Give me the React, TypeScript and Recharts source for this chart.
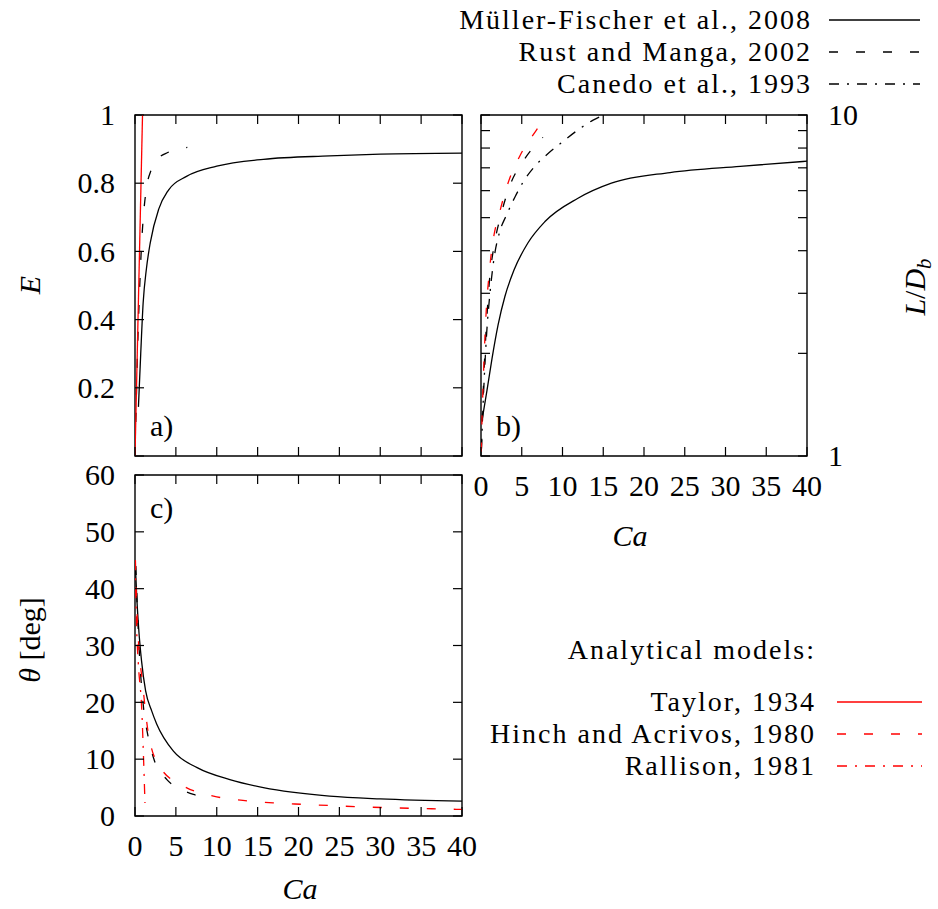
import React from 'react';
import { LineChart, Line, XAxis, YAxis, ReferenceArea } from 'recharts';

const W = 938;
const H = 909;
const FONT = '"Liberation Serif", "DejaVu Serif", serif';
const RED = '#ff0000';
const DASH = '9 18';
const DASH_DOT = '10 8 2 8';
const TICK = 9;
const TICK_FS = 30;
const AXIS_W = 60;
const AXIS_H = 40;

const caTicks = [0, 5, 10, 15, 20, 25, 30, 35, 40];
const eTicks = [0, 0.2, 0.4, 0.6, 0.8, 1];
const ldTicks = [1, 2, 3, 4, 5, 6, 7, 8, 9, 10];
const thetaTicks = [0, 10, 20, 30, 40, 50, 60];

// a) deformation parameter E
const mfCaA = [0.42, 0.7, 1.0, 1.4, 1.87, 2.9, 4.1, 6.3, 10, 15.7, 23.8, 30, 40];
const mfE = [0.144, 0.3, 0.45, 0.55, 0.626, 0.724, 0.78, 0.82, 0.85, 0.87, 0.88, 0.885, 0.888];
const rmCaA = [0.1, 0.3, 0.55, 0.8, 1.05, 1.4, 2.0, 2.6, 4.0, 5.3, 6.4];
const rmE = [0.1, 0.3, 0.48, 0.62, 0.71, 0.785, 0.84, 0.866, 0.89, 0.9, 0.905];
const taylorCa = [0, 0.92];
const taylorE = [0, 1];

// b) L/D_b
const mfCaB = [0.12, 0.74, 1.35, 2.09, 2.94, 4.05, 5.77, 7.85, 11.9, 16, 23.2, 31.8, 40];
const mfL = [1.27, 1.56, 1.93, 2.42, 2.94, 3.51, 4.22, 4.87, 5.7, 6.31, 6.78, 7.07, 7.32];
const rmCaB = [0.05, 0.3, 0.7, 1.1, 1.5, 2.5, 3.5, 5.3, 7.6];
const rmL = [1.05, 1.6, 2.5, 3.4, 4.0, 5.15, 6.17, 7.4, 8.6];
const canCaB = [0.05, 0.3, 0.7, 1.1, 1.6, 2.3, 3.1, 4.2, 5.15, 6.8, 8.1, 10.1, 11.7, 13.7, 15.1];
const canL = [1.05, 1.5, 2.3, 3.0, 3.8, 4.55, 5.07, 5.77, 6.35, 7.16, 7.66, 8.38, 8.97, 9.64, 10];
const haCaB = [0.04, 0.12, 0.25, 0.53, 1.07, 1.47, 2.3, 3.3, 4.75, 6.8, 7.4];
const haL = [1.03, 1.27, 1.59, 2.37, 3.56, 4.26, 5.2, 6.3, 7.57, 9.03, 9.47];

// c) orientation angle
const mfCaC = [0.05, 0.2, 0.45, 0.8, 1.3, 2.04, 2.65, 4.7, 7.6, 11.6, 15.7, 23.8, 30, 40];
const mfTheta = [44, 39, 33, 27.3, 22, 18.5, 16.2, 11.4, 8.5, 6.4, 5.0, 3.5, 3.0, 2.6];
const rmCaC = [0.1, 0.3, 0.6, 1.05, 1.6, 2.27, 3.9, 5.5, 7.15, 8.3];
const rmTheta = [44, 36, 27, 19, 14, 10.2, 6.4, 4.8, 3.8, 3.4];
const haCaC = [0.05, 0.24, 0.5, 0.85, 1.66, 3.1, 5.9, 9.6, 13.2, 16.9, 20.6, 27.9, 38.5, 40];
const haTheta = [45, 36, 29, 24.3, 14.3, 8.5, 5.3, 3.5, 2.75, 2.3, 2.05, 1.6, 1.2, 1.15];
const ralCaC = [0.02, 0.2, 0.4, 0.85, 1.05, 1.22];
const ralTheta = [45, 33, 27, 18, 10, 2.3];

const zip = (xs: number[], ys: number[]) => xs.map((ca, i) => ({ ca, v: ys[i] }));

type Box = { left: number; top: number; width: number; height: number };
const boxA: Box = { left: 135, top: 115, width: 327, height: 341 };
const boxB: Box = { left: 481, top: 115, width: 326, height: 341 };
const boxC: Box = { left: 135, top: 475, width: 327, height: 341 };

// plot area lands exactly on the box: axes take AXIS_W / AXIS_H out of the margin
const marginOf = (b: Box, yRight = false) => ({
  left: yRight ? b.left : b.left - AXIS_W,
  top: b.top,
  right: yRight ? W - b.left - b.width - AXIS_W : W - b.left - b.width,
  bottom: H - b.top - b.height - AXIS_H,
});

const txt = { fontFamily: FONT, fontSize: TICK_FS, fill: '#000' };

// y ticks: inward marks on both sides, label on the left or right
function yTick(b: Box, side: 'left' | 'right', show: (v: number) => boolean) {
  return (p: any) => {
    const y = p.y;
    const v = p.payload.value;
    const l = b.left;
    const r = b.left + b.width;
    return (
      <g>
        <line x1={l} x2={l + TICK} y1={y} y2={y} stroke="#000" strokeWidth={1.2} />
        <line x1={r} x2={r - TICK} y1={y} y2={y} stroke="#000" strokeWidth={1.2} />
        {show(v) && (
          <text
            {...txt}
            x={side === 'left' ? l - 20 : r + 21}
            y={y}
            dy="0.34em"
            textAnchor={side === 'left' ? 'end' : 'start'}
          >
            {v}
          </text>
        )}
      </g>
    );
  };
}

function xTick(b: Box, labels: boolean) {
  return (p: any) => {
    const x = p.x;
    const v = p.payload.value;
    const t = b.top;
    const bt = b.top + b.height;
    return (
      <g>
        <line x1={x} x2={x} y1={bt} y2={bt - TICK} stroke="#000" strokeWidth={1.2} />
        <line x1={x} x2={x} y1={t} y2={t + TICK} stroke="#000" strokeWidth={1.2} />
        {labels && (
          <text {...txt} x={x} y={bt + 30} dy="0.34em" textAnchor="middle">
            {v}
          </text>
        )}
      </g>
    );
  };
}

const pos: React.CSSProperties = { position: 'absolute', left: 0, top: 0 };

function PanelA() {
  return (
    <div style={pos}>
      <LineChart width={W} height={H} margin={marginOf(boxA)}>
        <XAxis type="number" dataKey="ca" domain={[0, 40]} ticks={caTicks} interval={0} height={AXIS_H}
          axisLine={false} tickLine={false} tickSize={0} tickMargin={0} allowDataOverflow tick={xTick(boxA, false)} />
        <YAxis type="number" domain={[0, 1]} ticks={eTicks} interval={0} width={AXIS_W}
          axisLine={false} tickLine={false} tickSize={0} tickMargin={0} allowDataOverflow
          tick={yTick(boxA, 'left', (v) => v !== 0)} />
        <ReferenceArea x1={0} x2={40} y1={0} y2={1} fill="none" stroke="#000" strokeWidth={1.4} />
        <Line data={zip(mfCaA, mfE)} dataKey="v" type="monotone" stroke="#000" strokeWidth={1.3} dot={false} isAnimationActive={false} />
        <Line data={zip(rmCaA, rmE)} dataKey="v" type="monotone" stroke="#000" strokeWidth={1.3} strokeDasharray={DASH} dot={false} isAnimationActive={false} />
        <Line data={zip(taylorCa, taylorE)} dataKey="v" type="linear" stroke={RED} strokeWidth={1.3} dot={false} isAnimationActive={false} />
      </LineChart>
    </div>
  );
}

function PanelB() {
  return (
    <div style={pos}>
      <LineChart width={W} height={H} margin={marginOf(boxB, true)}>
        <XAxis type="number" dataKey="ca" domain={[0, 40]} ticks={caTicks} interval={0} height={AXIS_H}
          axisLine={false} tickLine={false} tickSize={0} tickMargin={0} allowDataOverflow tick={xTick(boxB, true)} />
        <YAxis type="number" orientation="right" scale="log" domain={[1, 10]} ticks={ldTicks} interval={0} width={AXIS_W}
          axisLine={false} tickLine={false} tickSize={0} tickMargin={0} allowDataOverflow
          tick={yTick(boxB, 'right', (v) => v === 1 || v === 10)} />
        <ReferenceArea x1={0} x2={40} y1={1} y2={10} fill="none" stroke="#000" strokeWidth={1.4} />
        <Line data={zip(mfCaB, mfL)} dataKey="v" type="monotone" stroke="#000" strokeWidth={1.3} dot={false} isAnimationActive={false} />
        <Line data={zip(rmCaB, rmL)} dataKey="v" type="monotone" stroke="#000" strokeWidth={1.3} strokeDasharray={DASH} dot={false} isAnimationActive={false} />
        <Line data={zip(canCaB, canL)} dataKey="v" type="monotone" stroke="#000" strokeWidth={1.3} strokeDasharray={DASH_DOT} dot={false} isAnimationActive={false} />
        <Line data={zip(haCaB, haL)} dataKey="v" type="monotone" stroke={RED} strokeWidth={1.3} strokeDasharray={DASH} dot={false} isAnimationActive={false} />
      </LineChart>
    </div>
  );
}

function PanelC() {
  return (
    <div style={pos}>
      <LineChart width={W} height={H} margin={marginOf(boxC)}>
        <XAxis type="number" dataKey="ca" domain={[0, 40]} ticks={caTicks} interval={0} height={AXIS_H}
          axisLine={false} tickLine={false} tickSize={0} tickMargin={0} allowDataOverflow tick={xTick(boxC, true)} />
        <YAxis type="number" domain={[0, 60]} ticks={thetaTicks} interval={0} width={AXIS_W}
          axisLine={false} tickLine={false} tickSize={0} tickMargin={0} allowDataOverflow
          tick={yTick(boxC, 'left', () => true)} />
        <ReferenceArea x1={0} x2={40} y1={0} y2={60} fill="none" stroke="#000" strokeWidth={1.4} />
        <Line data={zip(mfCaC, mfTheta)} dataKey="v" type="monotone" stroke="#000" strokeWidth={1.3} dot={false} isAnimationActive={false} />
        <Line data={zip(rmCaC, rmTheta)} dataKey="v" type="monotone" stroke="#000" strokeWidth={1.3} strokeDasharray={DASH} dot={false} isAnimationActive={false} />
        <Line data={zip(haCaC, haTheta)} dataKey="v" type="monotone" stroke={RED} strokeWidth={1.3} strokeDasharray={DASH} dot={false} isAnimationActive={false} />
        <Line data={zip(ralCaC, ralTheta)} dataKey="v" type="monotone" stroke={RED} strokeWidth={1.3} strokeDasharray={DASH_DOT} dot={false} isAnimationActive={false} />
      </LineChart>
    </div>
  );
}

const dataLegend = [
  { label: 'Müller-Fischer et al., 2008', dash: undefined as string | undefined },
  { label: 'Rust and Manga, 2002', dash: DASH },
  { label: 'Canedo et al., 1993', dash: DASH_DOT },
];
const modelLegend = [
  { label: 'Taylor, 1934', dash: undefined as string | undefined },
  { label: 'Hinch and Acrivos, 1980', dash: DASH },
  { label: 'Rallison, 1981', dash: DASH_DOT },
];

function Overlay() {
  const t = { fontFamily: FONT, fontSize: 30, fill: '#000' };
  const lg = { ...t, fontSize: 28, letterSpacing: 2 };
  return (
    <svg width={W} height={H} style={{ ...pos, pointerEvents: 'none' }}>
      {dataLegend.map((d, i) => (
        <g key={d.label}>
          <text {...lg} x={812} y={29 + i * 32} textAnchor="end">{d.label}</text>
          <line x1={829} x2={920} y1={20 + i * 32} y2={20 + i * 32} stroke="#000" strokeWidth={1.3} strokeDasharray={d.dash} />
        </g>
      ))}
      <text {...lg} x={816} y={659} textAnchor="end">Analytical models:</text>
      {modelLegend.map((d, i) => (
        <g key={d.label}>
          <text {...lg} x={816} y={711 + i * 32} textAnchor="end">{d.label}</text>
          <line x1={837} x2={922} y1={702 + i * 32} y2={702 + i * 32} stroke={RED} strokeWidth={1.3} strokeDasharray={d.dash} />
        </g>
      ))}
      <text {...t} x={150} y={436}>a)</text>
      <text {...t} x={496} y={436}>b)</text>
      <text {...t} x={150} y={518}>c)</text>
      <text {...t} fontStyle="italic" transform="translate(40,285) rotate(-90)" textAnchor="middle">E</text>
      <text {...t} transform="translate(40,640) rotate(-90)" textAnchor="middle">
        <tspan fontStyle="italic">θ</tspan> [deg]
      </text>
      <text {...t} transform="translate(925,287) rotate(-90)" textAnchor="middle">
        <tspan fontStyle="italic">L</tspan>/<tspan fontStyle="italic">D</tspan>
        <tspan fontStyle="italic" fontSize={21} dy={6}>b</tspan>
      </text>
      <text {...t} fontStyle="italic" x={630} y={546} textAnchor="middle">Ca</text>
      <text {...t} fontStyle="italic" x={300} y={899} textAnchor="middle">Ca</text>
    </svg>
  );
}

export default function App() {
  return (
    <div style={{ position: 'absolute', left: 0, top: 0, width: W, height: H, background: '#fff' }}>
      <PanelA />
      <PanelB />
      <PanelC />
      <Overlay />
    </div>
  );
}
